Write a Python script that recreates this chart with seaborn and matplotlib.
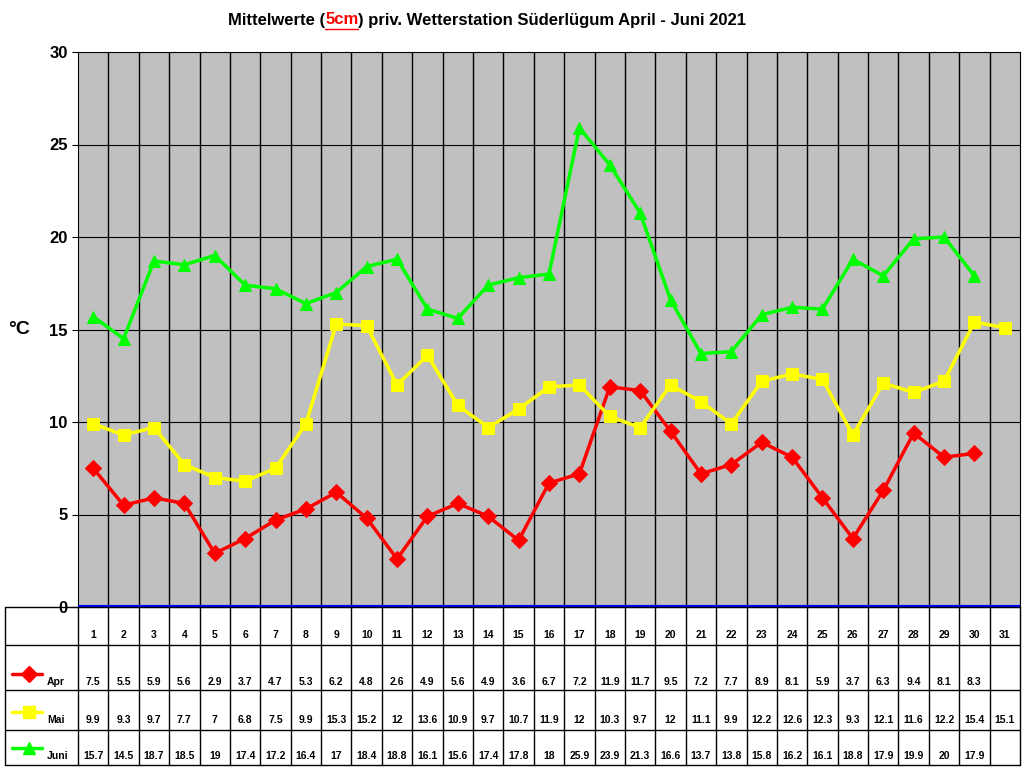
import matplotlib
matplotlib.use('Agg')
import matplotlib.pyplot as plt
import seaborn as sns
import pandas as pd

days = list(range(1, 32))
apr = [7.5, 5.5, 5.9, 5.6, 2.9, 3.7, 4.7, 5.3, 6.2, 4.8, 2.6, 4.9, 5.6, 4.9, 3.6, 6.7, 7.2, 11.9, 11.7, 9.5,
       7.2, 7.7, 8.9, 8.1, 5.9, 3.7, 6.3, 9.4, 8.1, 8.3]
mai = [9.9, 9.3, 9.7, 7.7, 7, 6.8, 7.5, 9.9, 15.3, 15.2, 12, 13.6, 10.9, 9.7, 10.7, 11.9, 12, 10.3, 9.7, 12,
       11.1, 9.9, 12.2, 12.6, 12.3, 9.3, 12.1, 11.6, 12.2, 15.4, 15.1]
juni = [15.7, 14.5, 18.7, 18.5, 19, 17.4, 17.2, 16.4, 17, 18.4, 18.8, 16.1, 15.6, 17.4, 17.8, 18, 25.9, 23.9,
        21.3, 16.6, 13.7, 13.8, 15.8, 16.2, 16.1, 18.8, 17.9, 19.9, 20, 17.9]
series = [("Apr", apr, "#ff0000", "D"), ("Mai", mai, "#ffff00", "s"), ("Juni", juni, "#00ff00", "^")]

sns.set_style("white")
plt.rcParams['font.family'] = ['Liberation Sans', 'DejaVu Sans']
plt.rcParams['text.color'] = 'black'
plt.rcParams['ytick.color'] = 'black'
W, H = 1024, 768
fig = plt.figure(figsize=(10.24, 7.68), dpi=100)

def fax(l, t, r, b):
    return fig.add_axes([l / W, 1 - b / H, (r - l) / W, (b - t) / H])

ax = fax(78, 52, 1020, 607)
ax.set_facecolor("#c0c0c0")
for name, vals, col, mk in series:
    df = pd.DataFrame({"day": days[:len(vals)], "v": vals})
    sns.lineplot(data=df, x="day", y="v", ax=ax, color=col, marker=mk, markersize=8,
                 markeredgecolor=col, linewidth=2.5, zorder=3)
ax.set_xlim(0.5, 31.5)
ax.set_ylim(0, 30)
for x in range(1, 31):
    ax.axvline(x + 0.5, color="black", lw=1, zorder=1)
for y in range(5, 30, 5):
    ax.axhline(y, color="black", lw=0.8, zorder=1)
ax.axhline(0, color="#0000ff", lw=3, zorder=4)
ax.set_xticks([])
ax.set_yticks(range(0, 31, 5))
ax.tick_params(axis="y", labelsize=12, left=True, length=4)
for t in ax.get_yticklabels():
    t.set_fontweight("bold")
ax.set_xlabel("")
ax.set_ylabel("")
for s in ax.spines.values():
    s.set_color("black")
fig.text(8 / W, 1 - 330 / H, "°C", fontsize=14, fontweight="bold", va="center")

# title, pieces placed one after another
ty = 1 - 20 / H
renderer = fig.canvas.get_renderer()
xpos = 228
for piece, col in [("Mittelwerte (", "black"), ("5cm", "red"),
                   (") priv. Wetterstation Süderlügum April - Juni 2021", "black")]:
    t = fig.text(xpos / W, ty, piece, fontsize=12, fontweight="bold", va="center", color=col)
    w = t.get_window_extent(renderer).width
    if col == "red":
        fig.add_artist(plt.Line2D([xpos / W, (xpos + w) / W], [1 - 29 / H] * 2, color="red", lw=1))
    xpos += w

# table
tx = fax(5, 607, 1020, 765)
ppd = 942 / 31
x0 = 0.5 - 73 / ppd
tx.set_xlim(x0, 31.5)
tx.set_ylim(765, 607)
tx.axis("off")
px = lambda p: x0 + (p - 5) / ppd
rows = [607, 645, 690, 730, 765]
for y in rows:
    tx.plot([x0, 31.5], [y, y], color="black", lw=1, clip_on=False)
tx.plot([x0, x0], [607, 765], color="black", lw=1, clip_on=False)
for x in range(0, 32):
    tx.plot([x + 0.5, x + 0.5], [607, 765], color="black", lw=1, clip_on=False)
for d in days:
    tx.text(d, 635, str(d), ha="center", va="center", fontsize=7.5, fontweight="bold")
ycent = [682, 720, 756]
for (name, vals, col, mk), yc in zip(series, ycent):
    tx.plot([px(12), px(42)], [yc - 8, yc - 8], color=col, lw=2.5)
    tx.plot([px(29)], [yc - 8], marker=mk, color=col, markersize=8)
    tx.text(px(47), yc, name, fontsize=7.5, fontweight="bold", va="center")
    for d, v in zip(days, vals):
        tx.text(d, yc, f"{v:g}", ha="center", va="center", fontsize=7.5, fontweight="bold")

fig.savefig("out.png", dpi=100)
